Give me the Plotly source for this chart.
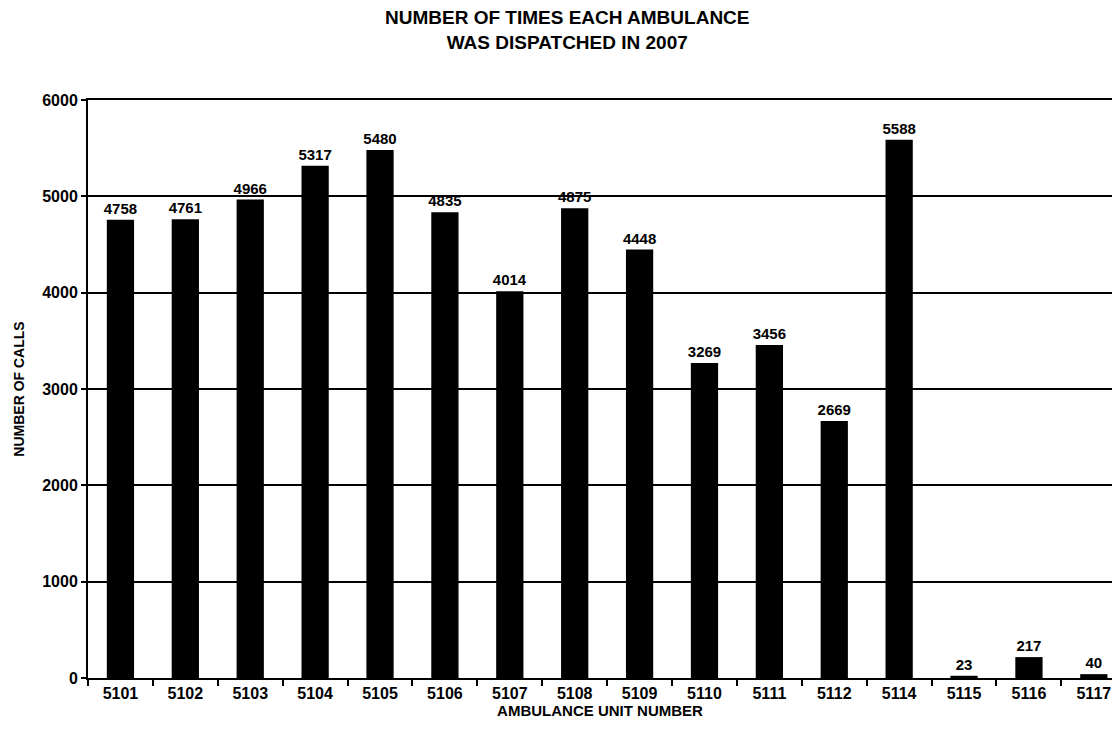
import plotly.graph_objects as go

units = ["5101", "5102", "5103", "5104", "5105", "5106", "5107", "5108",
         "5109", "5110", "5111", "5112", "5114", "5115", "5116", "5117"]
calls = [4758, 4761, 4966, 5317, 5480, 4835, 4014, 4875,
         4448, 3269, 3456, 2669, 5588, 23, 217, 40]

FONT = "Liberation Sans, Arial, sans-serif"

fig = go.Figure(go.Bar(
    x=units, y=calls,
    marker=dict(color="#000000", line=dict(width=0)),
    width=0.42,
    text=[str(v) for v in calls],
    textposition="outside",
    constraintext="none",
    textfont=dict(family=FONT, size=15, color="#000000", weight="bold"),
    cliponaxis=False,
))

fig.update_layout(
    width=1112, height=741,
    paper_bgcolor="white", plot_bgcolor="white",
    margin=dict(l=88, r=0, t=100, b=63),
    showlegend=False,
    annotations=[dict(
        text="NUMBER OF TIMES EACH AMBULANCE<br>WAS DISPATCHED IN 2007",
        xref="paper", yref="paper", x=0.468, y=1.165,
        xanchor="center", yanchor="top", showarrow=False, align="center",
        font=dict(family=FONT, size=19, color="#000000", weight="bold"),
    )],
    xaxis=dict(
        type="category",
        range=[-0.5, 15.28],
        showline=True, linecolor="#000000", linewidth=2, mirror=True,
        ticks="outside", tickson="boundaries", ticklen=6, tickcolor="#000000", tickwidth=1.5,
        tickfont=dict(family=FONT, size=16, color="#000000", weight="bold"),
        title=dict(text="AMBULANCE UNIT NUMBER", standoff=0,
                   font=dict(family=FONT, size=15, color="#000000", weight="bold")),
        showgrid=False,
    ),
    yaxis=dict(
        range=[0, 6000], tickvals=[0, 1000, 2000, 3000, 4000, 5000, 6000],
        showline=True, linecolor="#000000", linewidth=2,
        ticks="outside", ticklen=5, tickcolor="#000000", tickwidth=1.5,
        showgrid=True, gridcolor="#000000", gridwidth=1.5,
        zeroline=False,
        tickfont=dict(family=FONT, size=16, color="#000000", weight="bold"),
        title=dict(text="NUMBER OF CALLS", standoff=14,
                   font=dict(family=FONT, size=14, color="#000000", weight="bold")),
    ),
)

fig.write_html("out.html")
